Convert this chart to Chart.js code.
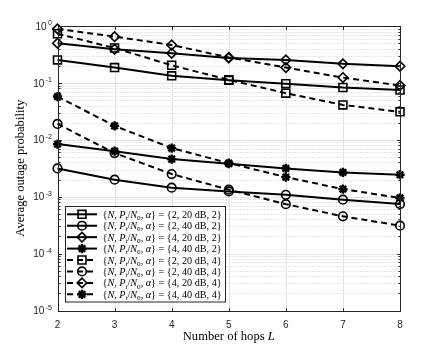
<!DOCTYPE html>
<html><head><meta charset="utf-8">
<script src="https://cdn.jsdelivr.net/npm/chart.js@4/dist/chart.umd.min.js"></script>
<style>html,body{margin:0;padding:0;background:#fff}#wrap{width:443px;height:350px;position:relative}</style>
</head><body><div id="wrap"><canvas id="c" width="443" height="350"></canvas></div>
<script>
// ---- data ----
const hops = [2, 3, 4, 5, 6, 7, 8];
const xTickLabels = ['2', '3', '4', '5', '6', '7', '8'];
const yTickExponents = [0, -1, -2, -3, -4, -5];
const seriesParams = ['2, 20 dB, 2', '2, 40 dB, 2', '4, 20 dB, 2', '4, 40 dB, 2',
                      '2, 20 dB, 4', '2, 40 dB, 4', '4, 20 dB, 4', '4, 40 dB, 4'];
const outN2P20a2 = [0.253, 0.186, 0.133, 0.111, 0.097, 0.083, 0.075];
const outN2P40a2 = [0.00314, 0.00199, 0.00144, 0.00124, 0.00108, 0.000886, 0.000743];
const outN4P20a2 = [0.497, 0.39, 0.332, 0.275, 0.253, 0.216, 0.196];
const outN4P40a2 = [0.0084, 0.0063, 0.00458, 0.0038, 0.00314, 0.00267, 0.00243];
const outN2P20a4 = [0.73, 0.41, 0.204, 0.113, 0.066, 0.041, 0.031];
const outN2P40a4 = [0.019, 0.00585, 0.0025, 0.00133, 0.00074, 0.000452, 0.00031];
const outN4P20a4 = [0.89, 0.65, 0.464, 0.28, 0.186, 0.124, 0.09];
const outN4P40a4 = [0.0575, 0.0176, 0.00715, 0.0039, 0.00221, 0.00136, 0.00095];

const seriesValues = [outN2P20a2, outN2P40a2, outN4P20a2, outN4P40a2,
                      outN2P20a4, outN2P40a4, outN4P20a4, outN4P40a4];
const markerStyles = ['rect', 'circle', 'rectRot', 'star', 'rect', 'circle', 'rectRot', 'star'];
const markerRadius = {rect: 5.6, circle: 4.3, rectRot: 4.8, star: 4.6};
const DASH = [6, 4];

const AX = '#262626';
const datasets = seriesValues.map((vals, i) => ({
  label: seriesParams[i],
  data: vals.map((v, j) => ({x: hops[j], y: v})),
  borderColor: '#000',
  borderWidth: 2,
  borderDash: i < 4 ? [] : DASH,
  pointStyle: markerStyles[i],
  pointRadius: markerRadius[markerStyles[i]],
  pointBorderWidth: markerStyles[i] === 'star' ? 2.4 : 1.6,
  pointBorderColor: '#000',
  pointBackgroundColor: 'rgba(0,0,0,0)',
  tension: 0,
  clip: false,
  fill: false
}));

function drawMarker(ctx, style, r, bw, x, y) {
  ctx.save();
  ctx.setLineDash([]);
  ctx.lineWidth = bw;
  ctx.strokeStyle = '#000';
  ctx.fillStyle = 'rgba(0,0,0,0)';
  if (window.Chart && Chart.helpers && Chart.helpers.drawPoint) {
    Chart.helpers.drawPoint(ctx, {pointStyle: style, radius: r, rotation: 0, borderWidth: bw}, x, y);
  }
  ctx.restore();
}

function drawRich(ctx, segs, x, y, size, family) {
  let cx = x;
  for (const s of segs) {
    const sz = s.sub ? size * 0.7 : size;
    ctx.font = (s.it ? 'italic ' : '') + sz + 'px ' + family;
    ctx.fillText(s.t, cx, y + (s.sub ? size * 0.22 : 0));
    cx += ctx.measureText(s.t).width;
  }
  return cx - x;
}

const matlabPlugin = {
  id: 'matlab',
  beforeDatasetsDraw(chart) {
    const {ctx, chartArea: a, scales: {x, y}} = chart;
    ctx.save();
    ctx.lineWidth = 1;
    ctx.strokeStyle = '#cfcfcf';
    ctx.setLineDash([1, 2]);
    for (let e = -5; e < 0; e++) {
      for (let m = 2; m <= 9; m++) {
        const py = Math.round(y.getPixelForValue(m * Math.pow(10, e))) + 0.5;
        ctx.beginPath(); ctx.moveTo(a.left, py); ctx.lineTo(a.right, py); ctx.stroke();
      }
    }
    ctx.setLineDash([]);
    ctx.strokeStyle = '#e3e3e3';
    for (const e of yTickExponents) {
      const py = Math.round(y.getPixelForValue(Math.pow(10, e))) + 0.5;
      ctx.beginPath(); ctx.moveTo(a.left, py); ctx.lineTo(a.right, py); ctx.stroke();
    }
    for (const h of hops) {
      const px = Math.round(x.getPixelForValue(h)) + 0.5;
      ctx.beginPath(); ctx.moveTo(px, a.top); ctx.lineTo(px, a.bottom); ctx.stroke();
    }
    ctx.restore();
  },
  afterDatasetsDraw(chart) {
    const {ctx, chartArea: a, scales: {x, y}} = chart;
    ctx.save();
    ctx.strokeStyle = AX; ctx.lineWidth = 1; ctx.setLineDash([]);
    const L = Math.round(a.left) + 0.5, R = Math.round(a.right) + 0.5;
    const T = Math.round(a.top) + 0.5, B = Math.round(a.bottom) + 0.5;
    ctx.strokeRect(L, T, R - L, B - T);
    const tl = 3.4;
    ctx.beginPath();
    for (const h of hops) {
      const px = Math.round(x.getPixelForValue(h)) + 0.5;
      ctx.moveTo(px, B); ctx.lineTo(px, B - tl);
      ctx.moveTo(px, T); ctx.lineTo(px, T + tl);
    }
    for (const e of yTickExponents) {
      const py = Math.round(y.getPixelForValue(Math.pow(10, e))) + 0.5;
      ctx.moveTo(L, py); ctx.lineTo(L + tl, py);
      ctx.moveTo(R, py); ctx.lineTo(R - tl, py);
    }
    for (let e = -5; e < 0; e++) {
      for (let m = 2; m <= 9; m++) {
        const py = Math.round(y.getPixelForValue(m * Math.pow(10, e))) + 0.5;
        ctx.moveTo(L, py); ctx.lineTo(L + 2, py);
        ctx.moveTo(R, py); ctx.lineTo(R - 2, py);
      }
    }
    ctx.stroke();
    ctx.fillStyle = AX;
    ctx.textBaseline = 'alphabetic';
    ctx.font = '10px "Liberation Sans", Arial, sans-serif';
    ctx.textAlign = 'center';
    hops.forEach((h, i) => {
      ctx.fillText(xTickLabels[i], x.getPixelForValue(h), B + 16);
    });
    ctx.textAlign = 'left';
    for (const e of yTickExponents) {
      const py = y.getPixelForValue(Math.pow(10, e));
      const sup = String(e);
      ctx.font = '7px "Liberation Sans", Arial, sans-serif';
      const w2 = ctx.measureText(sup).width;
      ctx.font = '10px "Liberation Sans", Arial, sans-serif';
      const w1 = ctx.measureText('10').width;
      const right = 52;
      const sx = right - w2;
      ctx.fillText('10', sx - 1.5 - w1, py + 3.6);
      ctx.font = '7px "Liberation Sans", Arial, sans-serif';
      ctx.fillText(sup, sx, py - 0.6);
    }
    const serif = '"Liberation Serif", "DejaVu Serif", serif';
    const tsz = 12.6;
    ctx.fillStyle = '#000';
    const segX = [{t: 'Number of hops '}, {t: 'L', it: true}];
    let tw = 0;
    for (const s of segX) { ctx.font = (s.it ? 'italic ' : '') + tsz + 'px ' + serif; tw += ctx.measureText(s.t).width; }
    drawRich(ctx, segX, (a.left + a.right) / 2 - tw / 2, 340, tsz, serif);
    ctx.save();
    ctx.translate(24, (a.top + a.bottom) / 2);
    ctx.rotate(-Math.PI / 2);
    ctx.textAlign = 'center';
    ctx.font = tsz + 'px ' + serif;
    ctx.fillText('Average outage probability', 0, 0);
    ctx.restore();
    // legend
    const lx = 65.5, ly = 206.5, lw = 160, lh = 95.5;
    ctx.fillStyle = '#fff';
    ctx.fillRect(lx, ly, lw, lh);
    ctx.strokeStyle = AX; ctx.lineWidth = 1;
    ctx.strokeRect(lx, ly, lw, lh);
    chart.data.datasets.forEach((ds, i) => {
      const cy = 214.3 + i * 11.43;
      ctx.save();
      ctx.strokeStyle = '#000'; ctx.lineWidth = 2;
      ctx.setLineDash(ds.borderDash);
      ctx.beginPath(); ctx.moveTo(67, cy); ctx.lineTo(97, cy); ctx.stroke();
      ctx.restore();
      drawMarker(ctx, ds.pointStyle, ds.pointRadius, ds.pointBorderWidth, 82, cy);
      ctx.fillStyle = '#000';
      ctx.textAlign = 'left';
      drawRich(ctx, [
        {t: '{'}, {t: 'N', it: true}, {t: ', '}, {t: 'P', it: true}, {t: 't', it: true, sub: true},
        {t: '/'}, {t: 'N', it: true}, {t: '0', sub: true}, {t: ', '}, {t: 'α', it: true},
        {t: '} = {' + ds.label + '}'}
      ], 102.5, cy + 3.5, 10.2, serif);
    });
    ctx.restore();
  }
};

new Chart(document.getElementById('c'), {
  type: 'line',
  data: {datasets},
  options: {
    responsive: false,
    devicePixelRatio: 1,
    animation: false,
    layout: {padding: {left: 57.5, right: 43, top: 26, bottom: 39.5}},
    plugins: {legend: {display: false}, tooltip: {enabled: false}},
    scales: {
      x: {type: 'linear', min: 2, max: 8, display: false},
      y: {type: 'logarithmic', min: 1e-5, max: 1, display: false}
    }
  },
  plugins: [matlabPlugin]
});
</script></body></html>
